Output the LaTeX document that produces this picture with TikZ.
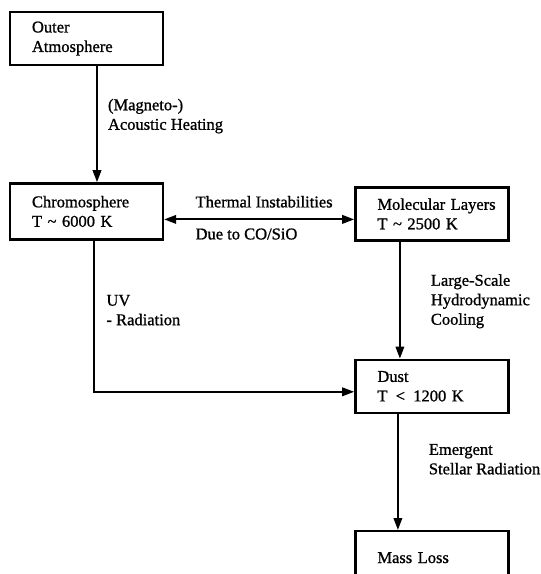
\documentclass[tikz,border=0pt]{standalone}
\usepackage{fontspec}
\setmainfont{Liberation Serif}
\newfontfamily\diagfont{Liberation Serif}[FakeBold=1]
\usepackage{tikz}
\usetikzlibrary{arrows.meta, positioning}

\begin{document}
\begin{tikzpicture}[
			x=1pt, y=1pt,
			node distance=116pt,
			box/.style={rectangle, draw, line width=2.4pt, minimum width=153pt, minimum height=53pt, text width=109pt, inner xsep=22pt, inner ysep=2pt, align=left, font=\diagfont\fontsize{16.5}{19.5}\selectfont},
			lbl/.style={inner sep=0pt, align=left, font=\diagfont\fontsize{16.5}{19.5}\selectfont},
			arrow/.style={-{Triangle[length=12pt, width=8.5pt]}, line width=2pt},
			twoway/.style={{Triangle[length=12pt, width=8.5pt]}-{Triangle[length=12pt, width=8.5pt]}, line width=2pt}
		]
		\useasboundingbox (0,0) rectangle (541,-574);
		\clip (0,0) rectangle (541,-574);
		\node[box] (outer) at (86.5,-38.5) {Outer\\Atmosphere};
		\node[box, minimum height=56pt, below=of outer] (chromo) {Chromosphere\\T {\char"7E} 6000 K};
		\node[box, right=190pt of chromo, yshift=-2.5pt] (molecular) {\mbox{Molecular Layers}\\T {\char"7E} 2500 K};
		\node[box, below=117pt of molecular] (dust) {Dust\\T \,<\, 1200 K};
		\node[box, below=of dust] (massloss) {Mass Loss};
		
		\draw[arrow] ([xshift=10.5pt]outer.south) -- ([xshift=10.5pt]outer.south |- chromo.north)
			node[lbl, pos=0.43, anchor=west, xshift=10pt] {(Magneto-)\\Acoustic Heating};
		\draw[twoway] ([yshift=-8pt]chromo.east) -- ([yshift=-8pt]chromo.east -| molecular.west)
			node[lbl, pos=0.16, anchor=base west, yshift=12pt] {Thermal Instabilities}
			node[lbl, pos=0.16, anchor=base west, yshift=-20pt] {Due to CO/SiO};
		\draw[arrow] ([xshift=7pt]chromo.south) |- ([yshift=-5.5pt]dust.west)
			node[lbl, pos=0.23, anchor=west, xshift=12pt] {UV\\- Radiation};
		\draw[arrow] ([xshift=-32pt]molecular.south) -- ([xshift=-32pt]molecular.south |- dust.north)
			node[lbl, pos=0.51, anchor=west, xshift=30pt] {Large-Scale\\Hydrodynamic\\Cooling};
		\draw[arrow] ([xshift=-34pt]dust.south) -- ([xshift=-34pt]dust.south |- massloss.north)
			node[lbl, pos=0.39, anchor=west, xshift=30pt] {Emergent\\Stellar Radiation};
		\end{tikzpicture}
\end{document}
